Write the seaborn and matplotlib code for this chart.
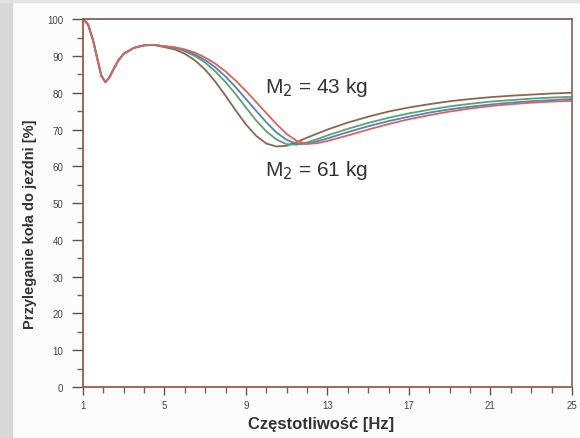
import pandas as pd
import matplotlib.pyplot as plt
from matplotlib.ticker import MultipleLocator
import seaborn as sns

sns.set_style('white')
plt.rcParams['font.family'] = ['Liberation Sans', 'DejaVu Sans']

freq = [1, 1.25, 1.5, 1.75, 1.9, 2.1, 2.3, 2.5, 2.75, 3, 3.5, 4, 4.5,
        5, 5.5, 6, 6.5, 7, 7.5, 8, 8.5, 9, 9.5, 10, 10.5, 11, 11.5, 12, 12.5,
        13, 14, 15, 16, 17, 18, 19, 20, 21, 22, 23, 24, 25]

start = [100, 98.6, 94.2, 88.2, 84.7, 82.9, 84.2, 86.4, 88.9, 90.6, 92.2, 92.9, 93.0]

brown = start + [92.4, 91.8, 90.6, 88.8, 86.3, 83.0, 79.2, 75.2, 71.4, 68.3, 66.2, 65.4,
                 65.6, 66.6, 67.8, 68.9, 70.0, 71.9, 73.5, 74.9, 76.0, 76.9, 77.7, 78.3,
                 78.8, 79.2, 79.5, 79.8, 80.0]
green = start + [92.6, 92.2, 91.3, 90.0, 88.2, 85.8, 82.9, 79.6, 76.0, 72.5, 69.5, 67.3,
                 66.0, 65.9, 66.5, 67.4, 68.4, 70.2, 71.8, 73.2, 74.4, 75.4, 76.3, 77.0,
                 77.6, 78.0, 78.4, 78.7, 78.9]
blue = start + [92.6, 92.3, 91.5, 90.4, 88.9, 86.9, 84.4, 81.5, 78.3, 75.1, 72.0, 69.2,
                67.2, 66.1, 66.1, 66.8, 67.6, 69.3, 70.9, 72.3, 73.5, 74.6, 75.5, 76.2,
                76.8, 77.3, 77.7, 78.0, 78.3]
red = start + [92.7, 92.4, 91.8, 90.9, 89.6, 87.9, 85.8, 83.3, 80.5, 77.5, 74.5, 71.5,
               68.8, 66.9, 66.1, 66.3, 66.9, 68.4, 70.0, 71.5, 72.8, 73.9, 74.9, 75.7,
               76.4, 76.9, 77.3, 77.6, 77.8]

series = {'61 kg': brown, '55 kg': green, '49 kg': blue, '43 kg': red}
colors = {'61 kg': '#8a6650', '55 kg': '#5f9e78', '49 kg': '#4f86b3', '43 kg': '#d9645a'}

df = pd.concat([pd.DataFrame({'f': freq, 'v': vals, 'm': name})
                for name, vals in series.items()], ignore_index=True)

fig = plt.figure(figsize=(5.8, 4.39), dpi=100, facecolor='#fcfcfc')
fig.patches.append(plt.Rectangle((0, 0), 0.02, 1, transform=fig.transFigure,
                                 color='#d8d8d8', zorder=0))
fig.patches.append(plt.Rectangle((0, 0.993), 1, 0.007, transform=fig.transFigure,
                                 color='#e2e2e2', zorder=0))
ax = fig.add_axes([0.143, 0.116, 0.843, 0.838])

sns.lineplot(data=df, x='f', y='v', hue='m', palette=colors, linewidth=1.3,
             legend=False, ax=ax)

ax.set_xlim(1, 25)
ax.set_ylim(0, 100)
ax.set_xticks([1, 5, 9, 13, 17, 21, 25])
ax.xaxis.set_minor_locator(MultipleLocator(1))
ax.set_yticks(range(0, 101, 10))
ax.yaxis.set_minor_locator(MultipleLocator(5))
ax.tick_params(axis='both', which='both', bottom=True, left=True, direction='out')
ax.tick_params(axis='both', which='major', length=6, width=1,
               color='#555555', labelsize=7, labelcolor='#444444')
ax.tick_params(axis='both', which='minor', length=4, width=1, color='#666666')
ax.tick_params(axis='y', which='major', length=8, pad=6)

for s in ax.spines.values():
    s.set_color('#9c5a48')
    s.set_linewidth(1.3)
ax.spines['top'].set_color('#7d6060')
ax.spines['right'].set_color('#8a6a6a')

ax.set_xlabel('Częstotliwość [Hz]', fontsize=12, fontweight='bold', color='#333333')
ax.set_ylabel('Przyleganie koła do jezdni [%]', fontsize=10.5, fontweight='bold',
              color='#333333')
ax.xaxis.set_label_coords(0.488, -0.078)
ax.yaxis.set_label_coords(-0.093, 0.445)

ax.text(9.95, 81.8, 'M$_2$ = 43 kg', fontsize=15, color='#333333', va='center', ha='left')
ax.text(9.95, 59.2, 'M$_2$ = 61 kg', fontsize=15, color='#333333', va='center', ha='left')

fig.savefig('out.png', dpi=100, facecolor=fig.get_facecolor())
